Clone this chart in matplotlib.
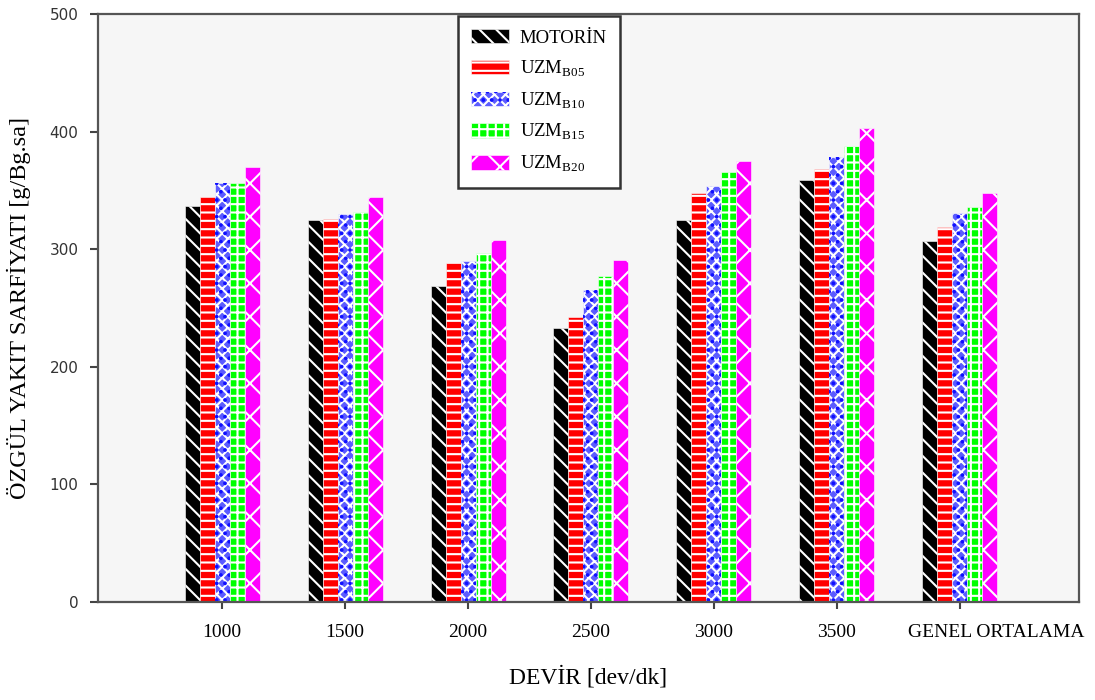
import numpy as np
import matplotlib
matplotlib.use('Agg')
from matplotlib import pyplot as plt
from matplotlib.legend_handler import HandlerTuple

categories = ['1000', '1500', '2000', '2500', '3000', '3500', 'GENEL ORTALAMA']
motorin = [337, 325, 269, 233, 325, 359, 307]
uzm_b05 = [344, 326, 288, 242, 348, 368, 319]
uzm_b10 = [356, 330, 290, 265, 354, 378, 331]
uzm_b15 = [356, 332, 297, 277, 366, 388, 336]
uzm_b20 = [370, 344, 308, 291, 375, 403, 348]
series_labels = ['MOTORİN', r'UZM$_{\mathrm{B05}}$', r'UZM$_{\mathrm{B10}}$',
                 r'UZM$_{\mathrm{B15}}$', r'UZM$_{\mathrm{B20}}$']

plt.rcParams['font.family'] = ['Liberation Serif', 'DejaVu Serif']
plt.rcParams['mathtext.fontset'] = 'custom'
plt.rcParams['mathtext.rm'] = 'Liberation Serif'
plt.rcParams['hatch.linewidth'] = 1.5

fig = plt.figure(figsize=(10.95, 7), dpi=100)
ax = fig.add_axes([0.0895, 0.14, 0.8959, 0.84])
ax.set_facecolor('#f6f6f6')

x = np.arange(len(categories))
w = 0.122
# face colour, white hatch, optional overlay hatch (colour, pattern)
styles = [('#000000', '\\\\', None), ('#ff0000', '--', None),
          ('#5c5cff', 'xxx', ('#1010ff', '..')),
          ('#00ff00', '++', None), ('#ff00ff', 'x', None)]
data = [motorin, uzm_b05, uzm_b10, uzm_b15, uzm_b20]
handles = []
for i, (vals, (fc, hatch, extra), lab) in enumerate(zip(data, styles, series_labels)):
    b = ax.bar(x + (i - 2) * w, vals, width=w, color=fc, edgecolor='white',
               hatch=hatch, linewidth=0.4)
    if extra is not None:
        b2 = ax.bar(x + (i - 2) * w, vals, width=w, facecolor='none',
                    edgecolor=extra[0], hatch=extra[1], linewidth=0)
        handles.append((b, b2))
    else:
        handles.append(b)

ax.set_xlim(-1.01, 6.97)
ax.set_ylim(0, 500)
ax.set_xticks(x)
# last label sits a bit right of its tick in the original, so place it by hand
ax.set_xticklabels(categories[:-1] + [''], fontsize=14)
ax.annotate(categories[-1], xy=(x[-1], 0), xycoords=('data', 'axes fraction'),
            xytext=(26, -16), textcoords='offset points',
            ha='center', va='top', fontsize=14)
ax.set_yticks(range(0, 501, 100))
for t in ax.get_yticklabels():
    t.set_family('DejaVu Sans')
    t.set_fontsize(11)
    t.set_color('#333333')
ax.tick_params(axis='x', direction='out', length=5, width=1.5, pad=11, color='#444444')
ax.tick_params(axis='y', direction='out', length=6, width=1.5, pad=8, color='#444444')
for s in ax.spines.values():
    s.set_linewidth(1.6)
    s.set_color('#555555')

ax.set_xlabel('DEVİR [dev/dk]', fontsize=17, labelpad=18)
ax.set_ylabel('ÖZGÜL YAKIT SARFİYATI [g/Bg.sa]', fontsize=17.5)
ax.yaxis.set_label_coords(-0.068, 0.5)

leg = ax.legend(handles, series_labels, loc='upper left',
                bbox_to_anchor=(0.365, 1.0), borderaxespad=0.1, fontsize=13.5,
                handler_map={tuple: HandlerTuple(ndivide=1, pad=0)},
                fancybox=False, framealpha=1, edgecolor='#333333',
                handlelength=2.0, handleheight=0.8, borderpad=0.7,
                labelspacing=0.62, handletextpad=0.6)
leg.get_frame().set_linewidth(1.8)

fig.savefig('out.png', dpi=100)
